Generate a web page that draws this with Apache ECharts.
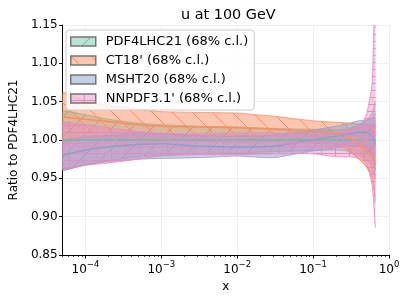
<!DOCTYPE html>
<html><head><meta charset="utf-8">
<script src="https://cdn.jsdelivr.net/npm/echarts@6/dist/echarts.min.js"></script>
<style>html,body{margin:0;padding:0;background:#fff}#c{width:407px;height:299px}</style>
</head><body><div id="c"></div><script>
// x grid (momentum fraction)
const xs = [5e-5, 1e-4, 2e-4, 5e-4, 1e-3, 3e-3, 1e-2, 3e-2, 0.1, 0.2, 0.3, 0.4, 0.5, 0.6, 0.66];
// PDF4LHC21
const pdfC  = [1,1,1,1,1,1,1,1,1,1,1,1,1,1,1];
const pdfHi = [1.038,1.033,1.027,1.022,1.020,1.018,1.017,1.015,1.014,1.013,1.015,1.020,1.025,1.035,1.050];
const pdfLo = [0.962,0.967,0.973,0.978,0.980,0.982,0.983,0.985,0.986,0.987,0.985,0.980,0.975,0.965,0.950];
// CT18'
const ctC  = [1.030,1.027,1.024,1.020,1.018,1.017,1.016,1.014,1.011,1.009,1.003,0.995,0.986,0.978,0.968];
const ctHi = [1.062,1.052,1.046,1.040,1.037,1.036,1.035,1.031,1.025,1.023,1.022,1.021,1.020,1.020,1.025];
const ctLo = [0.998,1.000,1.000,1.000,0.999,0.998,0.997,0.997,0.997,0.995,0.985,0.975,0.965,0.950,0.920];
// MSHT20
const msC  = [0.980,0.987,0.991,0.994,0.995,0.992,0.991,0.992,1.000,1.005,1.008,1.010,1.010,1.005,0.995];
const msHi = [1.000,1.004,1.006,1.008,1.008,1.006,1.005,1.006,1.013,1.018,1.022,1.025,1.026,1.028,1.035];
const msLo = [0.960,0.968,0.972,0.975,0.976,0.977,0.979,0.977,0.986,0.990,0.992,0.993,0.990,0.980,0.960];
// NNPDF3.1'
const nnC  = [0.995,0.996,0.997,0.997,0.998,0.998,0.998,0.997,0.996,0.995,0.996,0.998,1.000,1.005,1.020];
const nnHi = [1.023,1.020,1.016,1.011,1.009,1.008,1.009,1.009,1.009,1.010,1.013,1.018,1.032,1.075,1.250];
const nnLo = [0.962,0.967,0.970,0.975,0.979,0.981,0.981,0.982,0.982,0.978,0.978,0.976,0.970,0.940,0.886];

const names = ['PDF4LHC21 (68% c.l.)', "CT18' (68% c.l.)", 'MSHT20 (68% c.l.)', "NNPDF3.1' (68% c.l.)"];
const colors = ['#66c2a5', '#fc8d62', '#8da0cb', '#e78ac3'];
const xMajor = [1e-4, 1e-3, 1e-2, 1e-1, 1];
const xMinor = [];
for (let e = -5; e < 0; e++) for (let m = 2; m <= 9; m++) { const v = m * Math.pow(10, e); if (v >= 5e-5) xMinor.push(v); }

function makePattern(fill, line, kind, w, h) {
  const c = document.createElement('canvas');
  c.width = w; c.height = h;
  const g = c.getContext('2d');
  g.fillStyle = fill; g.fillRect(0, 0, w, h);
  g.strokeStyle = line; g.lineWidth = 1;
  g.beginPath();
  if (kind === '/') {
    for (let k = -1; k <= 1; k++) { g.moveTo(k * w, h); g.lineTo(k * w + w, 0); }
  } else if (kind === '\\') {
    for (let k = -1; k <= 1; k++) { g.moveTo(k * w, 0); g.lineTo(k * w + w, h); }
  } else if (kind === '+') {
    g.moveTo(0, h - 0.5); g.lineTo(w, h - 0.5);
    g.moveTo(w - 0.5, 0); g.lineTo(w - 0.5, h);
  }
  g.stroke();
  return { image: c, repeat: 'repeat' };
}
const patterns = [
  makePattern('rgba(102,194,165,0.45)', 'rgba(110,130,120,0.7)', '/', 20, 20),
  makePattern('rgba(252,141,98,0.5)', 'rgba(252,141,98,1)', '\\', 20, 20),
  makePattern('rgba(141,160,203,0.5)', 'rgba(141,160,203,0)', 'none', 10, 10),
  makePattern('rgba(231,138,195,0.45)', 'rgba(231,138,195,1)', '+', 14, 7)
];
const bands = [[pdfLo, pdfHi], [ctLo, ctHi], [msLo, msHi], [nnLo, nnHi]];
const centrals = [pdfC, ctC, msC, nnC];

const series = [];
bands.forEach((b, k) => {
  const [lo, hi] = b;
  series.push({
    type: 'custom', name: names[k], silent: true, clip: true, z: 2,
    itemStyle: { color: colors[k] },
    encode: { x: 0, y: [1, 2] },
    data: xs.map((x, i) => [x, lo[i], hi[i]]),
    renderItem: (params, api) => {
      if (params.dataIndex !== 0) return null;
      const up = xs.map((x, i) => api.coord([x, hi[i]]));
      const dn = xs.map((x, i) => api.coord([x, lo[i]]));
      const poly = up.concat(dn.slice().reverse());
      return {
        type: 'group',
        children: [
          { type: 'polygon', shape: { points: poly, smooth: 0.2 }, style: { fill: patterns[k], stroke: null } },
          { type: 'polyline', shape: { points: up, smooth: 0.2 }, style: { stroke: colors[k], lineWidth: 0.8, fill: null } },
          { type: 'polyline', shape: { points: dn, smooth: 0.2 }, style: { stroke: colors[k], lineWidth: 0.8, fill: null } }
        ]
      };
    }
  });
});
centrals.forEach((c, k) => {
  series.push({
    type: 'line', name: 'c' + k, symbol: 'none', smooth: 0.2, silent: true, z: 3,
    lineStyle: { color: colors[k], width: 1.5 },
    data: xs.map((x, i) => [x, c[i]])
  });
});

const font = 'DejaVu Sans';
const chart = echarts.init(document.getElementById('c'), null, { renderer: 'canvas' });
chart.setOption({
  animation: false,
  backgroundColor: '#fff',
  title: { text: 'u at 100 GeV', left: 176, top: 3, textStyle: { fontFamily: font, fontSize: 14.4, fontWeight: 'normal', color: '#000' } },
  grid: { left: 59, right: 18, top: 25, bottom: 44 },
  legend: {
    orient: 'vertical', left: 66, top: 30, padding: [4, 6, 4, 4], itemGap: 4,
    itemWidth: 25, itemHeight: 9, icon: 'rect',
    backgroundColor: 'rgba(255,255,255,0.8)', borderColor: '#cccccc', borderWidth: 1, borderRadius: 3,
    textStyle: { fontFamily: font, fontSize: 13, color: '#000', lineHeight: 15, padding: [0, 0, 0, 5] },
    data: names.map((n, k) => ({ name: n, itemStyle: { color: patterns[k], borderColor: '#777', borderWidth: 1.5 } }))
  },
  xAxis: [{
    type: 'log', min: 5e-5, max: 1, logBase: 10,
    name: 'x', nameLocation: 'middle', nameGap: 20,
    nameTextStyle: { fontFamily: font, fontSize: 12, color: '#000' },
    axisLine: { lineStyle: { color: '#000', width: 1 } },
    axisTick: { length: 3.5, inside: false, lineStyle: { color: '#000' }, customValues: xMajor },
    axisLabel: {
      customValues: xMajor, margin: 5,
      formatter: v => { const e = Math.round(Math.log10(v)); return '{b|10}{s|' + (e < 0 ? '\u2212' + (-e) : e) + '}'; },
      rich: { b: { fontFamily: font, fontSize: 12, color: '#000', verticalAlign: 'bottom', lineHeight: 16 },
              s: { fontFamily: font, fontSize: 8.5, color: '#000', verticalAlign: 'top', lineHeight: 10 } }
    },
    splitLine: { show: true, lineStyle: { color: '#ebebeb', width: 0.8 } },
    minorTick: { show: false }
  }, {
    type: 'log', min: 5e-5, max: 1, logBase: 10, position: 'bottom',
    axisLine: { show: false },
    axisTick: { length: 2, lineStyle: { color: '#000', width: 0.7 }, customValues: xMinor },
    axisLabel: { show: false }, splitLine: { show: false }
  }],
  yAxis: {
    type: 'value', min: 0.85, max: 1.15, interval: 0.05,
    name: 'Ratio to PDF4LHC21', nameLocation: 'middle', nameGap: 40,
    nameTextStyle: { fontFamily: font, fontSize: 12, color: '#000' },
    axisLine: { show: true, lineStyle: { color: '#000', width: 1 } },
    axisTick: { show: true, length: 3.5, lineStyle: { color: '#000' } },
    axisLabel: { fontFamily: font, fontSize: 12, color: '#000', margin: 5, formatter: v => v.toFixed(2) },
    splitLine: { show: true, lineStyle: { color: '#ebebeb', width: 0.8 } }
  },
  series: series
});
</script></body></html>
